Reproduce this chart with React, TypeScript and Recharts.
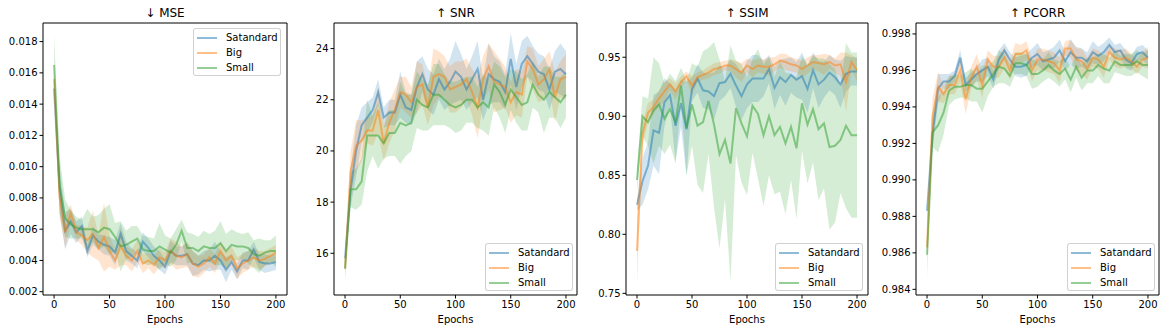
import React from "react";
import { ComposedChart, Line, Area, XAxis, YAxis, ReferenceArea, Label } from "recharts";

const epochs = [0,5,10,15,20,25,30,35,40,45,50,55,60,65,70,75,80,85,90,95,100,105,110,115,120,125,130,135,140,145,150,155,160,165,170,175,180,185,190,195,200];
const seriesNames = ["Satandard", "Big", "Small"];
const seriesColors = ["#1f77b4", "#ff7f0e", "#2ca02c"];
const xTicks = [0, 50, 100, 150, 200];

// MSE
const mseStd = [0.0150,0.0085,0.0059,0.0065,0.0058,0.0062,0.0046,0.0056,0.0052,0.0050,0.0049,0.0045,0.0057,0.0046,0.0043,0.0040,0.0052,0.0048,0.0043,0.0040,0.0036,0.0046,0.0043,0.0043,0.0044,0.0038,0.0037,0.0040,0.0040,0.0043,0.0040,0.0034,0.0039,0.0033,0.0040,0.0040,0.0047,0.0039,0.0038,0.0038,0.0039];
const mseStdSd = [0.0003,0.0015,0.0012,0.0008,0.0007,0.0006,0.0004,0.0006,0.0005,0.0006,0.0006,0.0008,0.0007,0.0006,0.0005,0.0005,0.0006,0.0006,0.0006,0.0006,0.0005,0.0007,0.0006,0.0006,0.0007,0.0008,0.0006,0.0006,0.0007,0.0009,0.0006,0.0008,0.0005,0.0005,0.0005,0.0006,0.0005,0.0005,0.0006,0.0005,0.0005];
const mseBig = [0.0156,0.0080,0.0058,0.0070,0.0058,0.0056,0.0053,0.0057,0.0048,0.0055,0.0046,0.0040,0.0049,0.0043,0.0040,0.0046,0.0038,0.0040,0.0037,0.0042,0.0040,0.0046,0.0043,0.0042,0.0044,0.0038,0.0036,0.0038,0.0042,0.0038,0.0046,0.0040,0.0043,0.0035,0.0038,0.0040,0.0042,0.0040,0.0041,0.0043,0.0045];
const mseBigSd = [0.0004,0.0012,0.0010,0.0006,0.0005,0.0006,0.0008,0.0015,0.0008,0.0022,0.0010,0.0006,0.0012,0.0006,0.0007,0.0007,0.0006,0.0005,0.0006,0.0006,0.0005,0.0008,0.0009,0.0007,0.0008,0.0008,0.0007,0.0006,0.0006,0.0006,0.0006,0.0006,0.0006,0.0007,0.0006,0.0006,0.0006,0.0006,0.0005,0.0005,0.0005];
const mseSmall = [0.0165,0.0088,0.0067,0.0063,0.0061,0.0060,0.0060,0.0060,0.0058,0.0061,0.0060,0.0055,0.0049,0.0050,0.0052,0.0054,0.0047,0.0046,0.0046,0.0049,0.0047,0.0045,0.0050,0.0059,0.0048,0.0048,0.0046,0.0049,0.0048,0.0048,0.0051,0.0046,0.0050,0.0049,0.0049,0.0048,0.0044,0.0043,0.0045,0.0046,0.0046];
const mseSmallSd = [0.0019,0.0018,0.0012,0.0009,0.0007,0.0006,0.0013,0.0008,0.0011,0.0012,0.0016,0.0009,0.0016,0.0009,0.0010,0.0008,0.0009,0.0009,0.0008,0.0015,0.0009,0.0009,0.0010,0.0007,0.0010,0.0009,0.0009,0.0010,0.0009,0.0011,0.0014,0.0011,0.0010,0.0009,0.0008,0.0010,0.0009,0.0011,0.0008,0.0007,0.0010];
const mseTicks = [0.002,0.004,0.006,0.008,0.010,0.012,0.014,0.016,0.018];

// SNR
const snrStd = [15.8,18.5,20.0,21.0,21.3,21.6,22.3,21.3,21.5,21.5,22.2,21.7,21.6,22.5,23.0,22.4,22.2,22.8,22.4,22.7,23.1,22.9,22.4,22.8,23.2,22.0,23.0,22.8,22.7,22.3,23.6,22.5,23.4,23.7,23.4,23.1,23.0,22.4,23.1,23.2,23.0];
const snrStdSd = [0.3,0.7,1.0,0.7,0.6,0.5,0.5,0.4,0.5,0.5,0.9,0.6,0.6,1.0,0.7,0.8,0.8,0.8,0.8,0.9,1.2,0.9,0.8,0.9,1.1,0.8,1.2,0.9,0.8,0.7,1.0,0.9,0.9,0.8,0.7,0.7,0.7,0.8,0.8,1.0,0.9];
const snrBig = [15.4,19.2,20.2,20.4,20.8,20.8,21.6,20.3,21.1,21.6,22.3,22.2,21.9,22.5,22.6,21.7,22.9,23.0,22.9,22.4,22.5,22.6,22.8,22.3,21.7,22.8,23.3,22.7,22.6,22.5,21.9,22.3,22.2,23.5,23.2,22.6,22.8,23.2,22.1,22.8,22.9];
const snrBigSd = [0.5,0.8,1.0,0.8,0.5,0.6,0.9,0.7,0.8,0.8,0.6,0.7,0.6,1.0,0.8,0.7,1.1,0.9,0.8,0.9,1.0,0.9,0.8,0.9,1.2,0.9,0.9,1.2,1.0,0.8,0.8,0.9,0.9,0.6,0.8,0.7,0.8,0.7,1.0,0.7,0.9];
const snrSmall = [15.4,18.5,18.5,18.8,20.6,20.6,20.6,20.3,20.7,20.7,21.1,21.0,21.1,22.0,21.8,21.7,22.2,22.2,22.0,21.8,21.7,21.8,22.0,22.0,21.7,21.9,21.7,22.6,22.3,21.8,22.4,22.1,21.8,21.9,22.6,22.2,22.0,22.3,22.1,21.9,22.2];
const snrSmallSd = [0.3,0.7,0.8,0.9,1.4,0.8,1.3,0.6,0.9,0.9,1.6,1.2,1.1,1.1,1.0,0.9,1.2,1.2,1.0,0.9,1.0,1.0,0.9,0.9,0.8,1.1,1.1,0.9,1.0,1.1,0.8,1.0,1.0,1.1,0.9,0.7,1.3,1.0,0.8,1.0,0.9];
const snrTicks = [16,18,20,22,24];

// SSIM
const ssimStd = [0.825,0.845,0.858,0.888,0.886,0.912,0.918,0.892,0.911,0.889,0.923,0.932,0.922,0.921,0.917,0.928,0.929,0.936,0.926,0.917,0.927,0.932,0.932,0.932,0.940,0.924,0.933,0.929,0.935,0.931,0.934,0.923,0.939,0.927,0.931,0.937,0.933,0.927,0.936,0.938,0.938];
const ssimStdSd = [0.005,0.02,0.02,0.03,0.035,0.02,0.01,0.03,0.02,0.04,0.01,0.012,0.015,0.015,0.02,0.015,0.012,0.012,0.018,0.02,0.02,0.02,0.02,0.015,0.012,0.018,0.015,0.02,0.015,0.015,0.02,0.02,0.015,0.02,0.015,0.015,0.015,0.02,0.015,0.012,0.012];
const ssimBig = [0.786,0.885,0.903,0.908,0.915,0.921,0.927,0.921,0.929,0.934,0.926,0.933,0.935,0.937,0.940,0.941,0.943,0.943,0.940,0.937,0.943,0.940,0.943,0.942,0.942,0.944,0.947,0.946,0.944,0.943,0.940,0.943,0.946,0.945,0.944,0.946,0.943,0.944,0.929,0.946,0.939];
const ssimBigSd = [0.028,0.01,0.008,0.006,0.007,0.008,0.005,0.007,0.005,0.004,0.008,0.004,0.004,0.005,0.005,0.005,0.004,0.005,0.007,0.008,0.006,0.007,0.006,0.006,0.008,0.006,0.006,0.007,0.006,0.006,0.007,0.007,0.006,0.007,0.009,0.006,0.006,0.01,0.025,0.006,0.01];
const ssimSmall = [0.846,0.900,0.895,0.905,0.910,0.898,0.906,0.895,0.926,0.890,0.910,0.892,0.895,0.913,0.893,0.868,0.880,0.860,0.907,0.894,0.883,0.909,0.902,0.884,0.900,0.884,0.891,0.877,0.891,0.873,0.911,0.893,0.906,0.889,0.894,0.874,0.875,0.880,0.892,0.884,0.884];
const ssimSmallSd = [0.01,0.017,0.02,0.045,0.035,0.03,0.03,0.035,0.015,0.04,0.035,0.05,0.06,0.045,0.07,0.08,0.05,0.1,0.04,0.05,0.05,0.04,0.055,0.06,0.05,0.05,0.055,0.06,0.045,0.06,0.04,0.05,0.045,0.06,0.055,0.07,0.065,0.045,0.07,0.07,0.07];
const ssimTicks = [0.75,0.80,0.85,0.90,0.95];

// PCORR
const pcStd = [0.9883,0.9925,0.9950,0.9954,0.9954,0.9957,0.9967,0.9952,0.9955,0.9958,0.9960,0.9962,0.9955,0.9966,0.9971,0.9966,0.9962,0.9962,0.9963,0.9967,0.9969,0.9965,0.9966,0.9967,0.9971,0.9965,0.9970,0.9967,0.9967,0.9965,0.9970,0.9968,0.9970,0.9974,0.9970,0.9971,0.9966,0.9964,0.9969,0.9970,0.9967];
const pcStdSd = [0.0001,0.0008,0.0008,0.0004,0.0004,0.0003,0.0004,0.0004,0.0004,0.0004,0.0006,0.0005,0.0005,0.0005,0.0004,0.0004,0.0005,0.0006,0.0006,0.0005,0.0006,0.0005,0.0005,0.0006,0.0006,0.0005,0.0007,0.0006,0.0005,0.0005,0.0006,0.0005,0.0005,0.0004,0.0004,0.0004,0.0005,0.0004,0.0004,0.0004,0.0004];
const pcBig = [0.9863,0.9935,0.9951,0.9947,0.9952,0.9952,0.9960,0.9944,0.9956,0.9962,0.9952,0.9966,0.9962,0.9962,0.9967,0.9960,0.9969,0.9969,0.9971,0.9960,0.9966,0.9966,0.9965,0.9964,0.9960,0.9972,0.9972,0.9966,0.9965,0.9961,0.9967,0.9966,0.9962,0.9970,0.9967,0.9966,0.9967,0.9965,0.9962,0.9966,0.9967];
const pcBigSd = [0.0018,0.0010,0.0008,0.0005,0.0005,0.0005,0.0006,0.0008,0.0006,0.0007,0.0007,0.0005,0.0006,0.0006,0.0006,0.0005,0.0006,0.0005,0.0005,0.0006,0.0006,0.0006,0.0006,0.0006,0.0007,0.0004,0.0005,0.0006,0.0007,0.0006,0.0005,0.0005,0.0006,0.0004,0.0005,0.0005,0.0005,0.0004,0.0004,0.0004,0.0006];
const pcSmall = [0.9859,0.9926,0.9930,0.9937,0.9949,0.9951,0.9951,0.9952,0.9952,0.9950,0.9950,0.9954,0.9958,0.9962,0.9961,0.9957,0.9964,0.9964,0.9963,0.9958,0.9958,0.9960,0.9963,0.9960,0.9958,0.9961,0.9955,0.9962,0.9956,0.9960,0.9960,0.9963,0.9961,0.9960,0.9965,0.9963,0.9963,0.9963,0.9965,0.9963,0.9963];
const pcSmallSd = [0.0002,0.0008,0.0015,0.0012,0.0008,0.0007,0.0006,0.0007,0.0009,0.0007,0.0013,0.0008,0.0007,0.0009,0.0008,0.0006,0.0006,0.0006,0.0006,0.0008,0.0007,0.0006,0.0007,0.0006,0.0007,0.0006,0.0007,0.0006,0.0007,0.0007,0.0007,0.0006,0.0008,0.0007,0.0006,0.0005,0.0006,0.0006,0.0006,0.0006,0.0008];
const pcTicks = [0.984,0.986,0.988,0.990,0.992,0.994,0.996,0.998];

const FONT = "'DejaVu Sans', sans-serif";
const PLOT_TOP = 23;
const PLOT_BOTTOM = 295;
const YW = 46;

type PanelProps = {
  title: string;
  plotLeft: number;
  plotRight: number;
  domain: [number, number];
  ticks: number[];
  decimals: number;
  means: number[][];
  sds: number[][];
  legendLeft: number;
  legendTop: number;
};

function Panel(p: PanelProps) {
  const data = epochs.map((e, i) => {
    const row: any = { epoch: e };
    p.means.forEach((m, k) => {
      row["m" + k] = m[i];
      row["b" + k] = [m[i] - p.sds[k][i], m[i] + p.sds[k][i]];
    });
    return row;
  });
  const chartLeft = p.plotLeft - YW;
  const width = p.plotRight - p.plotLeft + YW + 4;
  const xAxisH = 333 - PLOT_BOTTOM - 4;
  const elems: React.ReactNode[] = [];
  seriesNames.forEach((name, k) => {
    elems.push(
      <Line key={"l" + k} type="linear" dataKey={"m" + k} stroke={seriesColors[k]} strokeOpacity={0.5}
        strokeWidth={2} dot={false} activeDot={false} isAnimationActive={false} name={name} />
    );
    elems.push(
      <Area key={"a" + k} type="linear" dataKey={"b" + k} stroke="none" fill={seriesColors[k]} fillOpacity={0.2}
        dot={false} activeDot={false} isAnimationActive={false} />
    );
  });
  return (
    <>
      <div style={{ position: "absolute", left: chartLeft, top: 0 }}>
        <ComposedChart width={width} height={333} data={data}
          margin={{ top: PLOT_TOP, right: 4, bottom: 4, left: 0 }}>
          <XAxis dataKey="epoch" type="number" domain={[-10, 210]} ticks={xTicks} allowDataOverflow
            height={xAxisH} axisLine={false} tickLine={{ stroke: "#000" }} tickSize={3.5} tickMargin={2}
            tick={{ fontSize: 10, fill: "#000", fontFamily: FONT }} interval={0}>
            <Label value="Epochs" position="insideBottom" offset={6} style={{ fontSize: 10, fill: "#000", fontFamily: FONT }} />
          </XAxis>
          <YAxis type="number" domain={p.domain} ticks={p.ticks} allowDataOverflow width={YW}
            axisLine={false} tickLine={{ stroke: "#000" }} tickSize={3.5} tickMargin={2} interval={0}
            tickFormatter={(v: number) => v.toFixed(p.decimals)}
            tick={{ fontSize: 10, fill: "#000", fontFamily: FONT }} />
          {elems}
          <ReferenceArea x1={-10} x2={210} y1={p.domain[0]} y2={p.domain[1]} fill="none" stroke="#000"
            strokeWidth={1} fillOpacity={0} ifOverflow="visible" />
        </ComposedChart>
      </div>
      <div style={{ position: "absolute", left: p.plotLeft, width: p.plotRight - p.plotLeft, top: 5, textAlign: "center",
        fontSize: 12, fontFamily: FONT, color: "#000", lineHeight: "16px" }}>{p.title}</div>
      <div style={{ position: "absolute", left: p.legendLeft, top: p.legendTop, width: 88, height: 48, boxSizing: "border-box",
        border: "1px solid rgba(204,204,204,0.9)", borderRadius: 3, background: "rgba(255,255,255,0.8)", fontFamily: FONT, fontSize: 10 }}>
        {seriesNames.map((n, k) => (
          <div key={n} style={{ position: "absolute", left: 0, top: 2 + k * 15, height: 13, display: "flex", alignItems: "center" }}>
            <span style={{ display: "inline-block", marginLeft: 3, width: 20, height: 2, background: seriesColors[k], opacity: 0.5 }} />
            <span style={{ marginLeft: 9, color: "#000", lineHeight: "13px" }}>{n}</span>
          </div>
        ))}
      </div>
    </>
  );
}

export default function App() {
  return (
    <div style={{ position: "absolute", left: 0, top: 0, width: 1166, height: 333, background: "#fff", fontFamily: FONT }}>
      <Panel title="↓ MSE" plotLeft={43} plotRight={287} domain={[0.00179, 0.01919]} ticks={mseTicks} decimals={3}
        means={[mseStd, mseBig, mseSmall]} sds={[mseStdSd, mseBigSd, mseSmallSd]} legendLeft={193} legendTop={28} />
      <Panel title="↑ SNR" plotLeft={334} plotRight={577} domain={[14.37, 25.0]} ticks={snrTicks} decimals={0}
        means={[snrStd, snrBig, snrSmall]} sds={[snrStdSd, snrBigSd, snrSmallSd]} legendLeft={485} legendTop={243} />
      <Panel title="↑ SSIM" plotLeft={626} plotRight={868} domain={[0.7486, 0.979]} ticks={ssimTicks} decimals={2}
        means={[ssimStd, ssimBig, ssimSmall]} sds={[ssimStdSd, ssimBigSd, ssimSmallSd]} legendLeft={775} legendTop={243} />
      <Panel title="↑ PCORR" plotLeft={916} plotRight={1159} domain={[0.98369, 0.9986]} ticks={pcTicks} decimals={3}
        means={[pcStd, pcBig, pcSmall]} sds={[pcStdSd, pcBigSd, pcSmallSd]} legendLeft={1067} legendTop={243} />
    </div>
  );
}
